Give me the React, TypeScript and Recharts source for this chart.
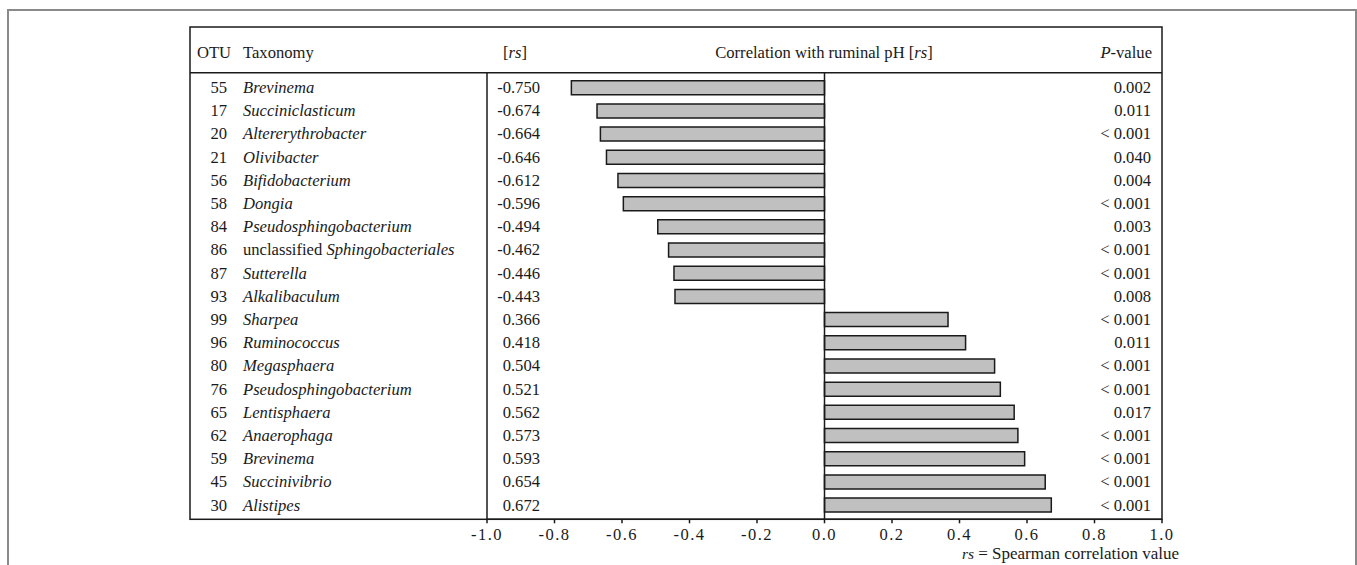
import React from 'react';
import { BarChart, Bar, XAxis, YAxis, ReferenceLine } from 'recharts';

const otus = [55, 17, 20, 21, 56, 58, 84, 86, 87, 93, 99, 96, 80, 76, 65, 62, 59, 45, 30];
const taxa = [
  'Brevinema', 'Succiniclasticum', 'Altererythrobacter', 'Olivibacter', 'Bifidobacterium',
  'Dongia', 'Pseudosphingobacterium', 'unclassified Sphingobacteriales', 'Sutterella',
  'Alkalibaculum', 'Sharpea', 'Ruminococcus', 'Megasphaera', 'Pseudosphingobacterium',
  'Lentisphaera', 'Anaerophaga', 'Brevinema', 'Succinivibrio', 'Alistipes',
];
const rsValues = [
  -0.750, -0.674, -0.664, -0.646, -0.612, -0.596, -0.494, -0.462, -0.446, -0.443,
  0.366, 0.418, 0.504, 0.521, 0.562, 0.573, 0.593, 0.654, 0.672,
];
const pValues = [
  '0.002', '0.011', '< 0.001', '0.040', '0.004', '< 0.001', '0.003', '< 0.001', '< 0.001', '0.008',
  '< 0.001', '0.011', '< 0.001', '< 0.001', '0.017', '< 0.001', '< 0.001', '< 0.001', '< 0.001',
];
const xTicks = [-1, -0.8, -0.6, -0.4, -0.2, 0, 0.2, 0.4, 0.6, 0.8, 1];

const FONT = '"Liberation Serif", "Times New Roman", serif';
const INK = '#1a1a1a';
const FS = 16.6;

const rows = otus.map((otu, i) => ({
  key: String(i),
  otu,
  taxon: taxa[i],
  rs: rsValues[i],
  p: pValues[i],
}));

// column anchors
const COL_OTU_END = 227;
const COL_TAX = 243;
const COL_RS_END = 540;
const COL_P_END = 1151;

const Taxon = ({ name }: { name: string }) => {
  if (name.startsWith('unclassified ')) {
    return (
      <>
        <tspan>unclassified </tspan>
        <tspan fontStyle="italic">{name.replace('unclassified ', '')}</tspan>
      </>
    );
  }
  return <tspan fontStyle="italic">{name}</tspan>;
};

const RowTick = (props: any) => {
  const { y, payload } = props;
  const r = rows[Number(payload.value)];
  if (!r) return null;
  const common = { y, dy: '0.35em', fontFamily: FONT, fontSize: FS, fill: INK };
  return (
    <g>
      <text {...common} x={COL_OTU_END} textAnchor="end">{r.otu}</text>
      <text {...common} x={COL_TAX} textAnchor="start"><Taxon name={r.taxon} /></text>
      <text {...common} x={COL_RS_END} textAnchor="end">{r.rs.toFixed(3)}</text>
      <text {...common} x={COL_P_END} textAnchor="end">{r.p}</text>
    </g>
  );
};

export default function App() {
  return (
    <div style={{ position: 'absolute', left: 0, top: 0, width: 1357, height: 565, background: '#fff' }}>
      <BarChart
        width={1357}
        height={565}
        data={rows}
        layout="vertical"
        margin={{ top: 72.7, right: 195, bottom: 0, left: 190 }}
        barSize={14}
      >
        <XAxis
          type="number"
          domain={[-1, 1]}
          ticks={xTicks}
          tickFormatter={(v: number) => v.toFixed(1)}
          height={45.7}
          tickSize={4}
          tickMargin={5}
          stroke={INK}
          strokeWidth={1.5}
          tick={{ fontFamily: FONT, fontSize: 16.5, fill: INK, letterSpacing: 1.5 }}
          allowDataOverflow
        />
        <YAxis
          type="category"
          dataKey="key"
          width={297}
          padding={{ top: 3, bottom: 3 }}
          tickLine={false}
          stroke={INK}
          strokeWidth={1.5}
          tick={<RowTick />}
          interval={0}
        />
        <ReferenceLine x={0} stroke={INK} strokeWidth={1.5} />
        <Bar dataKey="rs" fill="#c0c0c0" stroke={INK} strokeWidth={1.5} isAnimationActive={false} />
      </BarChart>
      <svg
        width={1357}
        height={565}
        style={{ position: 'absolute', left: 0, top: 0, pointerEvents: 'none' }}
        fontFamily={FONT}
      >
        <path d="M8,565 L8,10 L1356,10 L1356,565" fill="none" stroke="#8a8a8a" strokeWidth={2} />
        <rect x={190} y={27} width={972} height={492.3} fill="none" stroke={INK} strokeWidth={1.5} />
        <line x1={190} x2={1162} y1={72.7} y2={72.7} stroke={INK} strokeWidth={1.5} />
        <g fontSize={FS} fill={INK}>
          <text x={197} y={52} dy="0.35em">OTU</text>
          <text x={COL_TAX} y={52} dy="0.35em">Taxonomy</text>
          <text x={503} y={52} dy="0.35em">[<tspan fontStyle="italic">rs</tspan>]</text>
          <text x={824} y={52} dy="0.35em" textAnchor="middle">
            Correlation with ruminal pH [<tspan fontStyle="italic">rs</tspan>]
          </text>
          <text x={1152} y={52} dy="0.35em" textAnchor="end">
            <tspan fontStyle="italic">P</tspan>-value
          </text>
          <text x={1179} y={553} dy="0.35em" textAnchor="end" fontSize={17}>
            <tspan fontStyle="italic" fontSize={15.5}>rs</tspan> = Spearman correlation value
          </text>
        </g>
      </svg>
    </div>
  );
}
